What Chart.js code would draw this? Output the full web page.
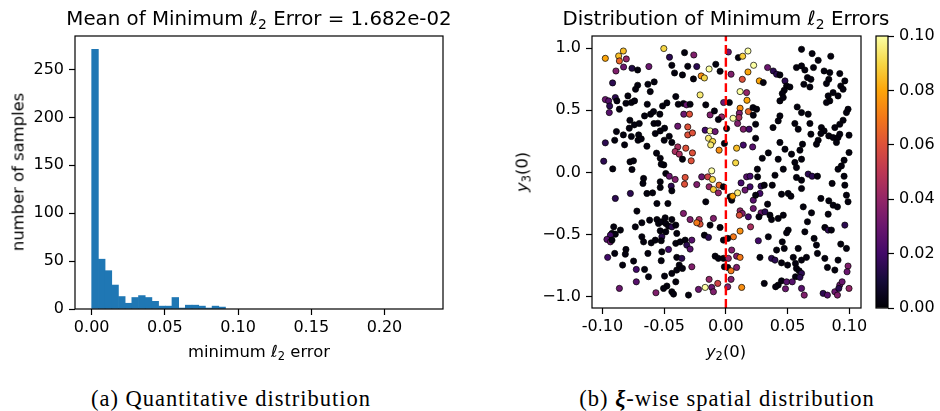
<!DOCTYPE html>
<html>
<head>
<meta charset="utf-8">
<script src="https://cdn.jsdelivr.net/npm/chart.js@4/dist/chart.umd.min.js"></script>
<style>
  body { margin: 0; background: #fff; width: 940px; height: 411px; position: relative; overflow: hidden; font-family: 'DejaVu Sans'; color: #000; }
  canvas { position: absolute; top: 0; }
  .t { position: absolute; transform: translate(-50%, -50%); white-space: nowrap; font-size: 16.4px; }
  .rot { transform: translate(-50%, -50%) rotate(-90deg); }
  .sub { font-size: 0.7em; position: relative; top: 0.28em; }
  .ttl { font-size: 19.8px; }
  .cap { font-family: 'Liberation Serif'; font-size: 22.5px; letter-spacing: 1px; }
</style>
</head>
<body>
<canvas id="hist" width="470" height="375" style="left:0px"></canvas>
<canvas id="scatter" width="360" height="375" style="left:520px"></canvas>
<canvas id="cbar" width="80" height="375" style="left:860px"></canvas>

<div class="t ttl" style="left:259px;top:18px">Mean of Minimum <i>ℓ</i><span class="sub">2</span> Error = 1.682e-02</div>
<div class="t ttl" style="left:726px;top:18px">Distribution of Minimum <i>ℓ</i><span class="sub">2</span> Errors</div>
<div class="t rot" style="left:18px;top:172px">number of samples</div>
<div class="t" style="left:259px;top:351px">minimum <i>ℓ</i><span class="sub">2</span> error</div>
<div class="t rot" style="left:522px;top:172px"><i>y</i><span class="sub">3</span>(0)</div>
<div class="t" style="left:726px;top:351px"><i>y</i><span class="sub">2</span>(0)</div>
<div class="t cap" style="left:231px;top:399px">(a) Quantitative distribution</div>
<div class="t cap" style="left:727px;top:399px">(b) <b><i>ξ</i></b>-wise spatial distribution</div>

<script>
// histogram of minimum l2 error (bin width and counts)
const histBinWidth = 0.00457;
const histCounts = [271, 52, 40, 25, 13, 6, 12, 14, 12, 8, 3, 3, 12, 1, 4, 4, 3, 1, 3, 2];
const histXTicks = [0, 0.05, 0.10, 0.15, 0.20];
const histYTicks = [0, 50, 100, 150, 200, 250];

// scatter: y2(0), y3(0) and the minimum l2 error of each sample
const y2Values = [
  -0.0977,-0.0869,-0.0831,-0.0863,-0.0807,-0.0891,-0.0829,-0.0761,-0.0715,-0.0624,
  -0.0503,-0.0457,-0.0438,-0.0416,-0.0918,-0.0715,-0.0732,-0.0632,-0.0581,-0.0613,
  -0.0977,-0.0950,-0.0896,-0.0883,-0.0794,-0.0810,-0.0766,-0.0740,-0.0942,-0.0945,
  -0.0863,-0.0637,-0.0513,-0.0478,-0.0406,-0.0386,-0.0659,-0.0610,-0.0586,-0.0535,
  -0.0778,-0.0742,-0.0783,-0.0702,-0.0583,-0.0551,-0.0887,-0.0901,-0.0831,-0.0766,
  -0.0707,-0.0712,-0.0686,-0.0572,-0.0532,-0.0497,-0.0459,-0.0390,-0.0977,-0.0821,
  -0.0640,-0.0500,-0.0438,-0.0390,-0.0411,-0.0378,-0.0562,-0.0532,-0.0503,-0.0990,
  -0.0917,-0.0777,-0.0749,-0.0761,-0.0524,
  -0.0335,-0.0260,-0.0309,-0.0236,-0.0352,-0.0263,-0.0200,-0.0174,-0.0136,-0.0082,
  -0.0047,0.0042,0.0020,0.0101,0.0136,0.0179,0.0225,0.0179,0.0133,0.0271,
  0.0303,0.0338,-0.0209,-0.0344,-0.0319,-0.0290,-0.0163,-0.0018,0.0028,0.0115,
  0.0168,0.0171,0.0115,0.0109,0.0106,0.0182,0.0220,0.0249,0.0222,-0.0341,
  -0.0295,-0.0128,-0.0093,-0.0034,-0.0061,0.0058,0.0095,0.0141,0.0188,0.0241,
  0.0006,-0.0309,-0.0309,-0.0271,-0.0168,-0.0128,-0.0087,-0.0141,-0.0107,-0.0123,
  -0.0055,-0.0012,0.0087,0.0141,0.0241,0.0217,-0.0325,-0.0271,-0.0352,-0.0281,
  0.0295,0.0344,0.0079,-0.0115,0.0255,
  0.0613,0.0699,0.0748,0.0850,0.0572,0.0613,0.0640,0.0710,0.0661,0.0689,
  0.0796,0.0842,0.0834,0.0815,0.0923,0.0964,0.0931,0.0950,0.0632,0.0681,
  0.0384,0.0411,0.0438,0.0479,0.0492,0.0519,0.0473,0.0457,0.0438,0.0465,
  0.0829,0.0869,0.0909,0.0842,0.0815,0.0578,0.0613,0.0667,0.0438,0.0424,
  0.0382,0.0681,0.0559,0.0586,0.0990,0.0977,0.0950,0.0923,0.0883,0.0774,
  0.0796,0.0770,0.0689,0.0834,0.0869,0.0909,0.0923,0.0896,0.0998,0.0748,
  0.0734,0.0621,0.0600,0.0532,0.0438,0.0479,0.0424,0.0559,0.0613,0.0572,
  0.0465,0.0998,0.0958,0.0936,0.0909,
  -0.0667,-0.0672,-0.0532,-0.0532,-0.0487,-0.0459,-0.0411,-0.0443,-0.0438,-0.0640,
  -0.0594,-0.0774,-0.0896,-0.0470,-0.0559,-0.0721,-0.0681,-0.0618,-0.0559,-0.0546,
  -0.0524,-0.0492,-0.0487,-0.0438,-0.0465,-0.0438,-0.0406,-0.0734,-0.0532,-0.0487,
  -0.0398,-0.0909,-0.0923,-0.0855,-0.0896,-0.0936,-0.0964,-0.0936,-0.0923,-0.0681,
  -0.0667,-0.0605,-0.0572,-0.0519,-0.0524,-0.0406,-0.0465,-0.0519,-0.0632,-0.0810,
  -0.0815,-0.0901,-0.0958,-0.0748,-0.0524,-0.0398,-0.0837,-0.0726,-0.0659,-0.0627,
  -0.0497,-0.0438,-0.0398,-0.0378,-0.0406,-0.0726,-0.0478,-0.0505,-0.0438,-0.0424,
  -0.0863,-0.0567,
  -0.0330,-0.0335,-0.0236,-0.0196,-0.0147,-0.0109,-0.0136,-0.0101,-0.0055,-0.0061,
  -0.0020,0.0034,0.0047,0.0055,0.0095,0.0123,0.0168,0.0196,0.0155,0.0196,
  0.0257,0.0285,0.0276,0.0222,0.0311,0.0241,0.0338,-0.0163,-0.0344,-0.0290,
  -0.0217,-0.0209,-0.0236,-0.0101,-0.0128,-0.0047,0.0115,0.0133,0.0109,0.0182,
  0.0222,0.0285,0.0268,0.0317,0.0200,0.0115,0.0061,0.0015,-0.0020,-0.0174,
  -0.0141,-0.0330,-0.0276,-0.0370,-0.0317,-0.0290,0.0263,0.0344,0.0047,0.0087,
  0.0115,-0.0087,-0.0061,-0.0020,0.0020,-0.0012,0.0015,0.0042,0.0087,-0.0357,
  -0.0352,-0.0276,0.0276,-0.0136,-0.0066,0.0042,0.0015,0.0128,-0.0115,-0.0168,
  -0.0222,-0.0101,-0.0303,0.0311,
  0.0398,0.0376,0.0572,0.0613,0.0667,0.0699,0.0742,0.0958,0.0964,0.0861,
  0.0451,0.0505,0.0527,0.0613,0.0977,0.0990,0.0770,0.0834,0.0869,0.0904,
  0.0627,0.0694,0.0829,0.0357,0.0370,0.0465,0.0424,0.0661,0.0802,0.0829,
  0.0855,0.0964,0.0505,0.0492,0.0640,0.0715,0.0457,0.0473,0.0411,0.0586,
  0.0734,0.0742,0.0931,0.0977,0.0370,0.0398,0.0451,0.0546,0.0613,0.0653,
  0.0802,0.0909,0.0500,0.0564,0.0572,0.0594,0.0613,0.0823,0.0883,0.0990,
  0.0982,0.0564,0.0600,0.0451,0.0424,0.0403,0.0492,0.0538,0.0483,0.0613,
  0.0635,0.0788,0.0823,0.0883,0.0904,0.0923,0.0942,0.0998,0.0915
];
const y3Values = [
  0.919,0.938,0.978,0.898,0.914,0.817,0.849,0.839,0.825,0.853,
  0.998,0.928,0.863,0.801,0.721,0.702,0.670,0.710,0.729,0.651,
  0.587,0.576,0.603,0.576,0.616,0.557,0.563,0.576,0.535,0.482,
  0.509,0.549,0.535,0.560,0.611,0.549,0.455,0.469,0.490,0.469,
  0.420,0.383,0.356,0.394,0.394,0.396,0.329,0.259,0.302,0.289,
  0.302,0.259,0.270,0.313,0.334,0.356,0.291,0.372,0.238,0.222,
  0.211,0.259,0.241,0.205,0.168,0.147,0.155,0.114,0.060,0.090,
  0.028,0.085,0.093,0.023,0.066,
  0.965,0.946,0.855,0.853,0.785,0.753,0.777,0.761,0.833,0.871,
  0.815,0.791,0.970,0.925,0.936,0.978,0.863,0.809,0.750,0.737,
  0.724,0.845,0.624,0.555,0.544,0.549,0.544,0.563,0.563,0.651,
  0.643,0.581,0.517,0.477,0.442,0.490,0.522,0.509,0.461,0.469,
  0.469,0.463,0.495,0.447,0.426,0.436,0.394,0.348,0.348,0.388,
  0.353,0.366,0.302,0.318,0.340,0.334,0.329,0.275,0.249,0.221,
  0.179,0.233,0.195,0.220,0.275,0.205,0.195,0.157,0.106,0.093,
  0.114,0.157,0.077,0.012,0.026,
  0.992,0.957,0.903,0.936,0.845,0.858,0.825,0.845,0.764,0.750,
  0.817,0.804,0.750,0.716,0.796,0.737,0.696,0.670,0.710,0.688,
  0.817,0.791,0.785,0.737,0.696,0.688,0.662,0.635,0.576,0.603,
  0.616,0.643,0.616,0.576,0.563,0.527,0.482,0.469,0.455,0.415,
  0.361,0.394,0.394,0.348,0.509,0.482,0.420,0.388,0.361,0.361,
  0.334,0.313,0.308,0.294,0.281,0.281,0.308,0.241,0.300,0.259,
  0.227,0.227,0.179,0.147,0.241,0.187,0.106,0.080,0.106,0.039,
  0.026,0.160,0.098,0.052,0.026,
  -0.049,-0.089,-0.076,-0.122,-0.009,-0.031,-0.057,-0.111,-0.149,-0.170,
  -0.165,-0.170,-0.210,-0.251,-0.251,-0.312,-0.406,-0.385,-0.380,-0.412,
  -0.398,-0.366,-0.412,-0.380,-0.433,-0.439,-0.425,-0.439,-0.471,-0.479,
  -0.492,-0.439,-0.492,-0.465,-0.498,-0.506,-0.540,-0.560,-0.546,-0.519,
  -0.560,-0.568,-0.546,-0.519,-0.551,-0.572,-0.621,-0.640,-0.653,-0.621,
  -0.659,-0.653,-0.685,-0.715,-0.712,-0.685,-0.747,-0.782,-0.782,-0.841,
  -0.836,-0.814,-0.787,-0.747,-0.882,-0.882,-0.916,-0.935,-0.962,-0.981,
  -0.935,-0.970,
  -0.041,-0.095,-0.098,-0.036,-0.036,-0.057,-0.116,-0.138,-0.103,-0.165,
  -0.116,-0.197,-0.224,-0.192,-0.165,-0.085,-0.036,-0.031,-0.143,-0.116,
  -0.036,-0.111,-0.170,-0.224,-0.103,-0.184,-0.256,-0.237,-0.331,-0.380,
  -0.380,-0.417,-0.406,-0.371,-0.425,-0.444,-0.310,-0.331,-0.345,-0.358,
  -0.291,-0.326,-0.358,-0.318,-0.439,-0.473,-0.519,-0.532,-0.546,-0.506,
  -0.524,-0.546,-0.546,-0.560,-0.586,-0.618,-0.551,-0.519,-0.626,-0.675,
  -0.685,-0.675,-0.693,-0.693,-0.693,-0.761,-0.766,-0.793,-0.766,-0.693,
  -0.774,-0.761,-0.685,-0.862,-0.895,-0.862,-0.922,-0.927,-0.927,-0.927,
  -0.943,-0.962,-0.989,-0.895,
  -0.023,-0.103,-0.041,-0.063,-0.014,-0.031,-0.031,-0.031,-0.103,-0.089,
  -0.176,-0.170,-0.192,-0.130,-0.184,-0.237,-0.210,-0.229,-0.264,-0.278,
  -0.278,-0.326,-0.337,-0.345,-0.380,-0.345,-0.371,-0.398,-0.444,-0.465,
  -0.465,-0.425,-0.465,-0.487,-0.479,-0.532,-0.560,-0.613,-0.626,-0.613,
  -0.586,-0.653,-0.578,-0.613,-0.693,-0.707,-0.729,-0.685,-0.707,-0.685,
  -0.693,-0.707,-0.747,-0.734,-0.774,-0.793,-0.814,-0.766,-0.787,-0.755,
  -0.801,-0.841,-0.846,-0.874,-0.908,-0.922,-0.882,-0.882,-0.938,-0.935,
  -0.989,-0.975,-0.989,-0.962,-0.989,-0.908,-0.882,-0.935,-0.935
];
const minErrValues = [
  0.08,0.085,0.085,0.065,0.04,0.035,0.03,0.012,0.002,0.03,
  0.09,0.015,0.002,0.002,0.015,0.002,0.002,0.002,0.002,0.002,
  0.03,0.025,0.015,0.002,0.002,0.002,0.002,0.002,0.015,0.025,
  0.002,0.002,0.002,0.002,0.002,0.002,0.002,0.002,0.002,0.002,
  0.002,0.002,0.002,0.002,0.002,0.002,0.002,0.002,0.002,0.002,
  0.002,0.002,0.002,0.002,0.002,0.002,0.002,0.03,0.015,0.002,
  0.002,0.002,0.002,0.045,0.045,0.045,0.002,0.002,0.002,0.015,
  0.002,0.002,0.002,0.002,0.002,
  0.002,0.035,0.002,0.015,0.002,0.002,0.075,0.09,0.1,0.002,
  0.002,0.035,0.03,0.002,0.088,0.1,0.1,0.08,0.06,0.08,
  0.002,0.03,0.095,0.002,0.03,0.002,0.002,0.03,0.002,0.1,
  0.04,0.08,0.075,0.035,0.045,0.065,0.002,0.002,0.002,0.03,
  0.06,0.035,0.002,0.04,0.002,0.1,0.035,0.035,0.02,0.002,
  0.002,0.06,0.06,0.06,0.02,0.1,0.03,0.095,0.09,0.095,
  0.075,0.002,0.085,0.02,0.002,0.025,0.06,0.06,0.002,0.06,
  0.002,0.002,0.09,0.1,0.002,
  0.002,0.002,0.002,0.002,0.002,0.002,0.002,0.002,0.002,0.002,
  0.002,0.002,0.002,0.002,0.002,0.002,0.002,0.002,0.002,0.002,
  0.015,0.015,0.002,0.015,0.002,0.002,0.002,0.002,0.002,0.002,
  0.002,0.002,0.002,0.002,0.002,0.002,0.002,0.002,0.002,0.002,
  0.002,0.002,0.002,0.002,0.002,0.002,0.002,0.002,0.002,0.002,
  0.002,0.002,0.002,0.002,0.002,0.002,0.002,0.002,0.002,0.002,
  0.002,0.002,0.002,0.002,0.002,0.002,0.002,0.002,0.002,0.002,
  0.002,0.002,0.002,0.002,0.002,
  0.002,0.002,0.002,0.002,0.002,0.03,0.035,0.015,0.002,0.002,
  0.002,0.015,0.015,0.002,0.002,0.002,0.002,0.002,0.002,0.002,
  0.002,0.002,0.002,0.002,0.002,0.015,0.002,0.002,0.002,0.002,
  0.002,0.002,0.002,0.002,0.002,0.02,0.025,0.03,0.002,0.002,
  0.002,0.002,0.002,0.015,0.002,0.002,0.02,0.002,0.002,0.002,
  0.002,0.002,0.02,0.002,0.002,0.002,0.002,0.02,0.002,0.002,
  0.002,0.002,0.002,0.002,0.002,0.025,0.002,0.002,0.002,0.002,
  0.03,0.035,
  0.06,0.06,0.035,0.03,0.055,0.09,0.04,0.088,0.065,0.04,
  0.002,0.002,0.002,0.08,0.095,0.02,0.025,0.02,0.03,0.02,
  0.002,0.015,0.02,0.025,0.002,0.002,0.002,0.002,0.035,0.035,
  0.045,0.06,0.07,0.035,0.002,0.002,0.04,0.035,0.06,0.02,
  0.03,0.03,0.002,0.015,0.045,0.075,0.07,0.002,0.002,0.002,
  0.015,0.002,0.025,0.002,0.015,0.025,0.02,0.002,0.035,0.035,
  0.07,0.002,0.002,0.002,0.04,0.002,0.002,0.07,0.035,0.015,
  0.002,0.035,0.002,0.04,0.055,0.035,0.035,0.075,0.03,0.1,
  0.03,0.035,0.002,0.002,
  0.002,0.002,0.002,0.002,0.015,0.015,0.002,0.002,0.002,0.002,
  0.002,0.002,0.002,0.002,0.002,0.002,0.002,0.002,0.002,0.002,
  0.002,0.002,0.002,0.002,0.002,0.002,0.002,0.002,0.002,0.015,
  0.002,0.015,0.002,0.002,0.002,0.002,0.002,0.002,0.002,0.002,
  0.002,0.002,0.002,0.002,0.015,0.015,0.002,0.002,0.002,0.002,
  0.002,0.002,0.002,0.002,0.002,0.002,0.015,0.002,0.002,0.035,
  0.03,0.002,0.015,0.002,0.002,0.002,0.025,0.025,0.03,0.025,
  0.035,0.015,0.025,0.03,0.035,0.03,0.03,0.04,0.015
];
const scatterXTicks = [-0.10, -0.05, 0.00, 0.05, 0.10];
const scatterYTicks = [-1.0, -0.5, 0.0, 0.5, 1.0];
const y2Range = [-0.1085, 0.1095];
const y3Range = [-1.093, 1.099];
const dividerY2 = 0.0;

// colorbar
const cbarRange = [0, 0.10];
const cbarTicks = [0, 0.02, 0.04, 0.06, 0.08, 0.10];
const infernoStops = ['#000004', '#160b39', '#420a68', '#6a176e', '#932667', '#bc3754',
                      '#dd513a', '#f37819', '#fca50a', '#f6d746', '#fcffa4'];

Chart.defaults.font.family = 'DejaVu Sans';
Chart.defaults.font.size = 16;
Chart.defaults.color = '#000';

function hexToRgb(h) {
  return [1, 3, 5].map(i => parseInt(h.slice(i, i + 2), 16));
}
function inferno(v) {
  let t = Math.min(Math.max((v - cbarRange[0]) / (cbarRange[1] - cbarRange[0]), 0), 1);
  const pos = t * (infernoStops.length - 1);
  const i = Math.min(Math.floor(pos), infernoStops.length - 2);
  const f = pos - i;
  const a = hexToRgb(infernoStops[i]), b = hexToRgb(infernoStops[i + 1]);
  const c = a.map((x, k) => Math.round(x + (b[k] - x) * f));
  return `rgb(${c[0]},${c[1]},${c[2]})`;
}

// black frame around the plot area, like matplotlib spines
const framePlugin = {
  id: 'frame',
  afterDraw(chart) {
    const { ctx, chartArea: a } = chart;
    ctx.save();
    ctx.strokeStyle = '#000';
    ctx.lineWidth = 1.2;
    ctx.strokeRect(a.left, a.top, a.right - a.left, a.bottom - a.top);
    ctx.restore();
  }
};

function axis(ticksArr, fmt, fitSize, horizontal, extra) {
  return Object.assign({
    border: { display: false },
    grid: { display: true, drawOnChartArea: false, drawTicks: true, tickLength: 6, tickColor: '#000', tickWidth: 1.2, offset: false },
    ticks: { color: '#000', font: { size: 16 }, padding: horizontal ? 3 : 5, maxRotation: 0, autoSkip: false, callback: fmt },
    afterBuildTicks: s => { s.ticks = ticksArr.map(v => ({ value: v })); },
    afterFit: s => {
      if (horizontal) { s.height = fitSize; s.paddingLeft = 0; s.paddingRight = 0; }
      else { s.width = fitSize; s.paddingTop = 0; s.paddingBottom = 0; }
    }
  }, extra);
}

const baseOpts = {
  responsive: false,
  animation: false,
  devicePixelRatio: 1,
  plugins: { legend: { display: false }, tooltip: { enabled: false } }
};

// (a) histogram
new Chart(document.getElementById('hist'), {
  type: 'bar',
  data: {
    datasets: [{
      data: histCounts.map((c, i) => ({ x: (i + 0.5) * histBinWidth, y: c })),
      backgroundColor: '#1f77b4',
      borderWidth: 0,
      barPercentage: 1,
      categoryPercentage: 1
    }]
  },
  options: Object.assign({}, baseOpts, {
    layout: { padding: { left: 0, top: 36, right: 27, bottom: 0 } },
    scales: {
      x: axis(histXTicks, v => v.toFixed(2), 66, true, { type: 'linear', min: -0.0114, max: 0.240, offset: false }),
      y: axis(histYTicks, v => String(v), 75, false, { min: 0, max: 285 })
    }
  }),
  plugins: [framePlugin]
});

// (b) scatter coloured by error
new Chart(document.getElementById('scatter'), {
  type: 'scatter',
  data: {
    datasets: [
      {
        data: [{ x: dividerY2, y: y3Range[0] }, { x: dividerY2, y: y3Range[1] }],
        showLine: true,
        borderColor: '#ff0000',
        borderWidth: 2.4,
        borderDash: [8.9, 3.8],
        pointRadius: 0,
        fill: false
      },
      {
        data: y2Values.map((x, i) => ({ x: x, y: y3Values[i] })),
        pointRadius: 3.1,
        pointBorderWidth: 0.7,
        pointBorderColor: '#000',
        pointBackgroundColor: ctx => inferno(minErrValues[ctx.dataIndex])
      }
    ]
  },
  options: Object.assign({}, baseOpts, {
    layout: { padding: { left: 0, top: 36, right: 19, bottom: 0 } },
    scales: {
      x: axis(scatterXTicks, v => v.toFixed(2), 67, true, { type: 'linear', min: y2Range[0], max: y2Range[1] }),
      y: axis(scatterYTicks, v => v.toFixed(1).replace('-', '\u2212'), 72, false, { min: y3Range[0], max: y3Range[1] })
    }
  }),
  plugins: [framePlugin]
});

// colorbar
new Chart(document.getElementById('cbar'), {
  type: 'bar',
  data: {
    labels: [''],
    datasets: [{
      data: [cbarRange],
      borderWidth: 0,
      barPercentage: 1,
      categoryPercentage: 1,
      backgroundColor: ctx => {
        const area = ctx.chart.chartArea;
        if (!area) return infernoStops[0];
        const g = ctx.chart.ctx.createLinearGradient(0, area.bottom, 0, area.top);
        infernoStops.forEach((c, i) => g.addColorStop(i / (infernoStops.length - 1), c));
        return g;
      }
    }]
  },
  options: Object.assign({}, baseOpts, {
    layout: { padding: { left: 16, top: 36, right: 0, bottom: 67 } },
    scales: {
      x: { display: false },
      y: axis(cbarTicks, v => v.toFixed(2), 52, false, { position: 'right', min: cbarRange[0], max: cbarRange[1] })
    }
  }),
  plugins: [framePlugin]
});
</script>
</body>
</html>
